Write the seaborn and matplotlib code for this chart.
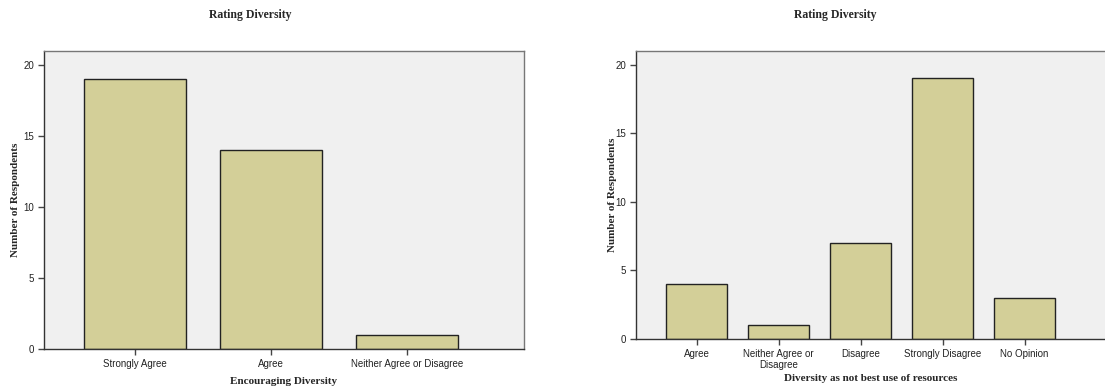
import pandas as pd
import matplotlib.pyplot as plt
import seaborn as sns

# data
left_cats = ['Strongly Agree', 'Agree', 'Neither Agree or Disagree']
left_counts = [19, 14, 1]
right_cats = ['Agree', 'Neither Agree or\nDisagree', 'Disagree', 'Strongly Disagree', 'No Opinion']
right_counts = [4, 1, 7, 19, 3]
y_ticks = [0, 5, 10, 15, 20]

sns.set_theme(style='white')
plt.rcParams['font.family'] = ['Liberation Sans', 'DejaVu Sans']

bar_color = '#d3cf98'
serif = ['Liberation Serif', 'DejaVu Serif']

fig = plt.figure(figsize=(11.05, 3.92), dpi=100)
ax1 = fig.add_axes([44 / 1105, 1 - 349 / 392, 480 / 1105, 298 / 392])
ax2 = fig.add_axes([636 / 1105, 1 - 339 / 392, 469 / 1105, 288 / 392])


def draw(ax, cats, counts, xlabel, xlim):
    df = pd.DataFrame({'cat': cats, 'n': counts})
    sns.barplot(data=df, x='cat', y='n', ax=ax, color=bar_color, saturation=1,
                width=0.75, edgecolor='#222222', linewidth=1.0)
    ax.set_facecolor('#f0f0f0')
    ax.set_ylim(0, 21)
    ax.set_xlim(*xlim)
    ax.set_yticks(y_ticks)
    ax.tick_params(axis='both', direction='out', length=4, width=1, color='#444444',
                   labelsize=7, labelcolor='#222222', bottom=True, left=True, pad=3)
    for s in ax.spines.values():
        s.set_color('#777777')
        s.set_linewidth(1)
    ax.spines['left'].set_color('#333333')
    ax.spines['bottom'].set_color('#333333')
    ax.set_xlabel(xlabel, family=serif, fontweight='bold', fontsize=8, labelpad=6)
    ax.set_ylabel('Number of Respondents', family=serif, fontweight='bold', fontsize=8)


draw(ax1, left_cats, left_counts, 'Encouraging Diversity', (-0.67, 2.86))
draw(ax2, right_cats, right_counts, 'Diversity as not best use of resources', (-0.74, 4.98))
ax2.spines['right'].set_visible(False)
ax2.xaxis.labelpad = 3
ax1.yaxis.set_label_coords(-0.05, 0.5)
ax2.yaxis.set_label_coords(-0.04, 0.5)

fig.text(250 / 1105, 1 - 15 / 392, 'Rating Diversity', family=serif, fontweight='bold',
         fontsize=8.5, ha='center', va='center')
fig.text(835 / 1105, 1 - 15 / 392, 'Rating Diversity', family=serif, fontweight='bold',
         fontsize=8.5, ha='center', va='center')

fig.savefig('out.png', dpi=100)
